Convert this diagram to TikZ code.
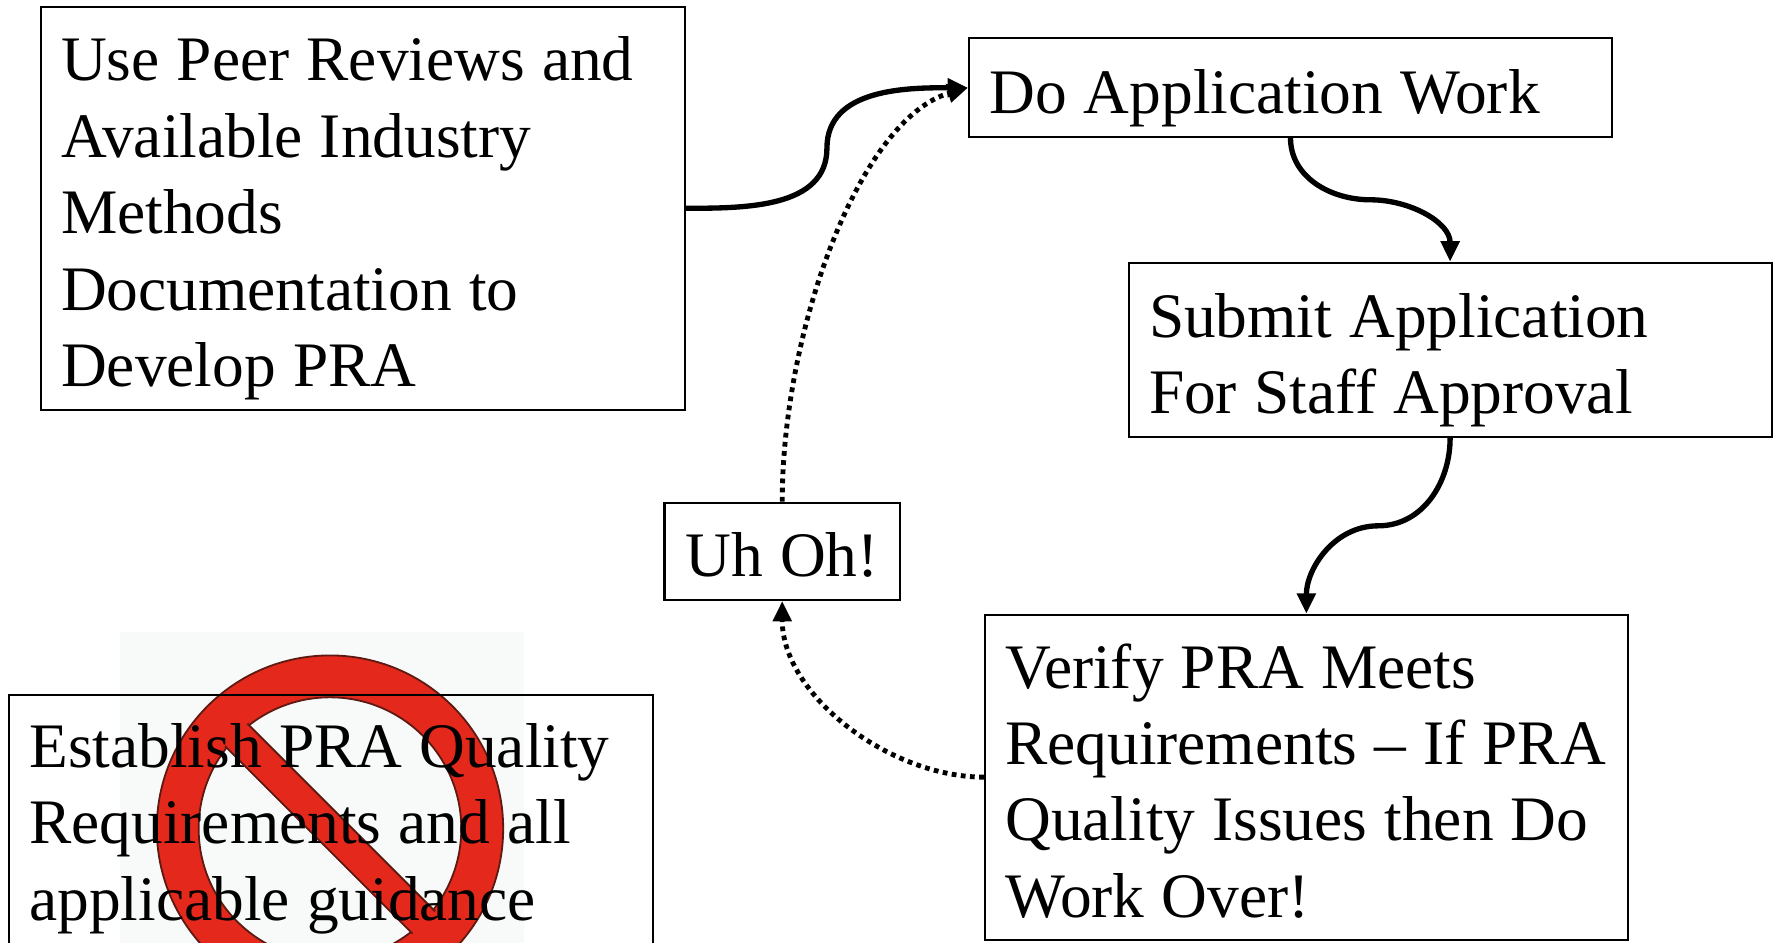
\documentclass[tikz,border=0pt]{standalone}
\usepackage{fontspec}
\setmainfont{Liberation Serif}
\usetikzlibrary{arrows.meta,calc}
\definecolor{nored}{HTML}{E4291C}
\definecolor{nodark}{HTML}{5E1A12}
\definecolor{imgbg}{HTML}{F8FAFA}
\newcommand\topstrut{\spaceskip=0.27em plus 0.1em minus 0.05em\relax\xspaceskip=0pt\relax\rule{0pt}{1.025em}}
\newcommand\botstrut{\rule[-0.22em]{0pt}{0.22em}}
\begin{document}
\begin{tikzpicture}[x=1pt,y=1pt,
  txt/.style={font=\fontsize{56}{67.5}\selectfont},
  box/.style={draw, line width=1.8pt, inner sep=0pt, txt, align=left,
    execute at begin node=\topstrut, execute at end node=\botstrut},
  widebox/.style={box, text width=532pt, minimum width=568pt},
  flow/.style={line width=4.7pt, -{Triangle[length=18pt,width=16pt]}},
  back/.style={line width=4.3pt, dash pattern=on 4.2pt off 3.9pt, -{Triangle[length=18pt,width=16pt]}}]
\useasboundingbox (0,0) rectangle (1568,833);
\clip (0,0) rectangle (1568,833);
% prohibition sign (picture behind the lower-left box)
\fill[imgbg] (106,0) rectangle (463,275);
\begin{scope}[shift={(291.5,101)}]
  \fill[nored, even odd rule] (0,0) circle (153) (0,0) circle (116);
  \draw[nodark, line width=1.6pt] (0,0) circle (153) (0,0) circle (116);
  \begin{scope}
    \clip (0,0) circle (118);
    \begin{scope}[rotate=-45]
      \fill[nored] (-130,-14) rectangle (130,14);
      \draw[nodark, line width=1.6pt] (-130,-14) -- (130,-14) (-130,14) -- (130,14);
    \end{scope}
  \end{scope}
\end{scope}
% boxes
\node[widebox, text width=533pt, minimum width=569pt, minimum height=356pt] (A) at (320.5,649)
  {Use Peer Reviews and\\Available Industry\\Methods\\Documentation to\\Develop PRA};
\node[widebox, minimum height=87pt] (B) at (1140,755.5) {Do Application Work};
\node[widebox, minimum height=154pt] (C) at (1281,524) {Submit Application\\For Staff Approval};
\node[widebox, minimum height=287pt] (D) at (1154,146.5)
  {Verify PRA Meets\\Requirements -- If PRA\\Quality Issues then Do\\Work Over!};
\node[box, align=center, minimum width=208pt, minimum height=86pt] (E) at (691,346) {Uh Oh!};
\node[widebox, text width=533pt, minimum width=569pt, minimum height=285.4pt] (F) at (292.5,76.3)
  {Establish PRA Quality\\Requirements and all\\applicable guidance\\\mbox{}};
% connectors
\draw[flow] (A.east) to[out=0,in=-90] ($(A.east)!0.5!(B.west)$) to[out=90,in=180] (B.west);
\draw[flow] (B.south) to[out=-90,in=180] ($(B.south)!0.5!(C.north)$) to[out=0,in=90] (C.north);
\draw[flow] (C.south) to[out=-90,in=0] ($(C.south)!0.5!(D.north)$) to[out=180,in=90] (D.north);
\draw[back] (E.north) .. controls +(0,150) and +(-96,-27.5) .. (B.west);
\draw[back] (D.west) to[out=180,in=-90,looseness=0.9] (E.south);
\end{tikzpicture}
\end{document}
